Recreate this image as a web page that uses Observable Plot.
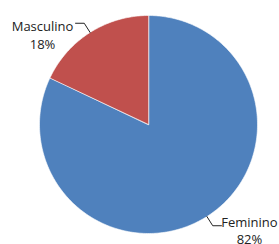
<!DOCTYPE html>
<html><head><meta charset="utf-8">
<script src="https://cdn.jsdelivr.net/npm/d3@7"></script>
<script src="https://cdn.jsdelivr.net/npm/@observablehq/plot@0.6"></script>
<style>body{margin:0;background:#fff}svg{display:block}</style>
</head><body><div id="chart"></div>
<script>
const categories = ["Feminino", "Masculino"];
const values = [82, 18];
const labels = ["82%", "18%"];
const colors = ["#4F81BD", "#C0504D"];

const arcs = d3.pie().sort(null)(values);
const slices = [];
const leaders = [];
const texts = [];
arcs.forEach((a, i) => {
  const name = categories[i];
  slices.push({name, x: 0, y: 0});
  const n = Math.max(2, Math.ceil((a.endAngle - a.startAngle) / (Math.PI / 180)));
  for (let k = 0; k <= n; k++) {
    const t = a.startAngle + (a.endAngle - a.startAngle) * k / n;
    slices.push({name, x: Math.sin(t), y: Math.cos(t)});
  }
  const m = (a.startAngle + a.endAngle) / 2;
  const side = Math.sin(m) < 0 ? -1 : 1;
  const ex = 1.1 * Math.sin(m), ey = 1.1 * Math.cos(m);
  const hx = ex + side * 0.08;
  leaders.push({name, x: Math.sin(m), y: Math.cos(m)});
  leaders.push({name, x: ex, y: ey});
  leaders.push({name, x: hx, y: ey});
  texts.push({name, x: hx, y: ey, side, text: name + "\n" + labels[i]});
});

const chart = Plot.plot({
  width: 279, height: 244,
  marginLeft: 39, marginRight: 22, marginTop: 15, marginBottom: 11,
  x: {domain: [-1, 1], axis: null},
  y: {domain: [-1, 1], axis: null},
  color: {domain: categories, range: colors},
  style: {fontFamily: "'Open Sans', sans-serif", background: "#fff"},
  marks: [
    Plot.line(slices, {x: "x", y: "y", z: "name", fill: "name", stroke: "#ffffff", strokeOpacity: 0.6, strokeWidth: 1, curve: "linear-closed"}),
    Plot.line(leaders, {x: "x", y: "y", z: "name", stroke: "#222", strokeWidth: 1}),
    Plot.text(texts.filter(d => d.side < 0), {x: "x", y: "y", text: "text", textAnchor: "middle", lineAnchor: "top", dx: -33, dy: -6, lineHeight: 1.45, fontSize: 13, fill: "#222"}),
    Plot.text(texts.filter(d => d.side > 0), {x: "x", y: "y", text: "text", textAnchor: "middle", lineAnchor: "top", dx: 28, dy: -11, lineHeight: 1.3, fontSize: 13, fill: "#222"})
  ]
});
document.getElementById("chart").appendChild(chart);
</script>
</body></html>
